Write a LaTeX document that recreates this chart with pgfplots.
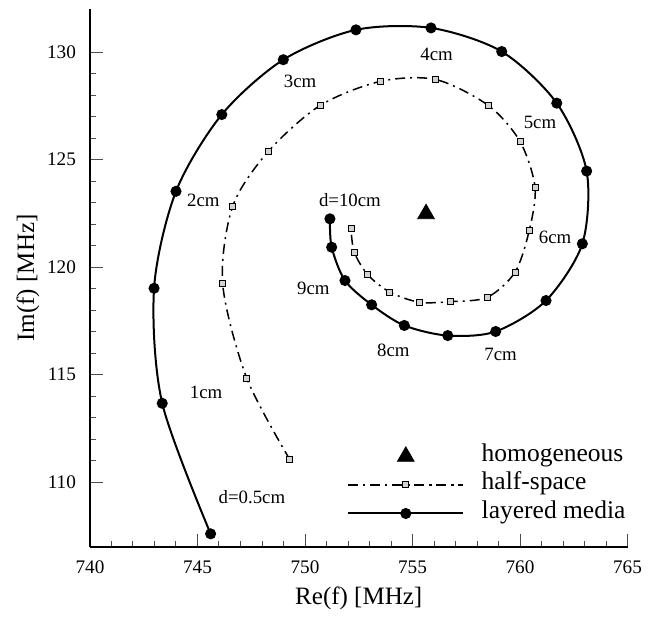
\documentclass[border=0pt]{standalone}
\usepackage{fontspec}
\setmainfont{Liberation Serif}
\usepackage{pgfplots}
\pgfplotsset{compat=1.18}
\begin{document}
\begin{tikzpicture}
\begin{axis}[
 scale only axis, width=268.75pt, height=268.75pt,
 xmin=740, xmax=765, ymin=107, ymax=132,
 axis lines=left, axis line style={-, line width=1pt},
 xtick={740,745,...,765}, ytick={110,115,...,130},
 minor tick num=4,
 tick align=inside,
 major tick length=6.5pt, minor tick length=3pt,
 tick style={line width=0.5pt, black!70},
 /pgf/number format/assume math mode=true,
 ticklabel style={font=\fontsize{9.6}{11}\selectfont},
 xticklabel style={yshift=-3.5pt},
 yticklabel style={xshift=-3.5pt},
 xlabel={Re(f) [MHz]}, ylabel={Im(f) [MHz]},
 label style={font=\fontsize{12.5}{15}\selectfont},
 xlabel style={at={(axis description cs:0.5,-0.0954)}, anchor=center},
 ylabel style={at={(axis description cs:-0.1153,0.5)}, anchor=center},
 legend style={draw=none, fill=none, at={(0.4668,0.1939)}, anchor=north west,
   font=\fontsize{12.75}{15}\selectfont,
   nodes={inner sep=0pt, text height=0.7em, text depth=0.2em},
   column sep=8.7pt, row sep=5.25pt},
 legend cell align=left,
 legend image code/.code={\draw[mark repeat=2,mark phase=2,#1] plot coordinates {(0pt,0pt) (28.75pt,0pt) (57.5pt,0pt)};},
]
\addplot[black, only marks, mark=triangle*, mark size=4.8pt] coordinates {(755.63,122.48)};
\addlegendentry{homogeneous}
\addplot[black, line width=0.75pt, dash pattern=on 5pt off 2.5pt on 1pt off 2.5pt, smooth,
  mark=square*, mark size=1.5pt, mark options={solid, fill=gray!35, line width=0.5pt}] coordinates {
(749.30,111.04) (747.29,114.84) (746.17,119.23) (746.64,122.84) (748.29,125.38) (750.70,127.52) (753.49,128.64) (756.08,128.73) (758.53,127.52) (760.00,125.85) (760.70,123.72) (760.43,121.71) (759.77,119.77) (758.48,118.60) (756.79,118.40) (755.32,118.37) (753.95,118.84) (752.92,119.65) (752.29,120.70) (752.14,121.79)
};
\addlegendentry{half-space}
\addplot[black, line width=1pt, smooth, mark=*, mark size=2.25pt] coordinates {
(745.61,107.60) (743.36,113.67) (742.98,119.02) (744.00,123.53) (746.13,127.10) (748.99,129.65) (752.37,131.04) (755.86,131.13) (759.15,130.03) (761.71,127.63) (763.10,124.47) (762.90,121.09) (761.21,118.45) (758.87,117.01) (756.64,116.82) (754.62,117.29) (753.10,118.25) (751.86,119.38) (751.24,120.93) (751.16,122.25)
};
\addlegendentry{layered media}
\begin{scope}[every node/.style={font=\fontsize{9.4}{11}\selectfont}]
\node at (axis cs:747.53,109.29) {d=0.5cm};
\node at (axis cs:745.40,114.16) {1cm};
\node at (axis cs:745.27,123.10) {2cm};
\node at (axis cs:749.77,128.64) {3cm};
\node at (axis cs:756.12,129.89) {4cm};
\node at (axis cs:760.93,126.74) {5cm};
\node at (axis cs:761.63,121.40) {6cm};
\node at (axis cs:759.10,115.93) {7cm};
\node at (axis cs:754.11,116.13) {8cm};
\node at (axis cs:750.39,119.00) {9cm};
\node at (axis cs:752.09,123.13) {d=10cm};
\end{scope}
\end{axis}
\pgfresetboundingbox
\path[use as bounding box] ([shift={(-45pt,-37.65pt)}]current axis.south west) rectangle ([shift={(12.75pt,4.6pt)}]current axis.north east);
\end{tikzpicture}
\end{document}
